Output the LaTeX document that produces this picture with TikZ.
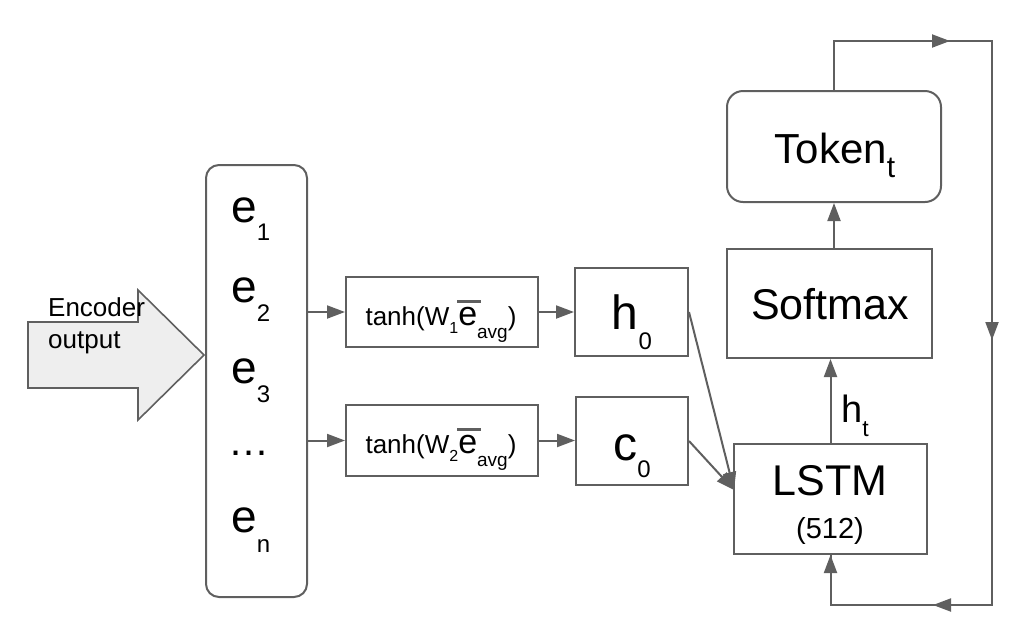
\documentclass[tikz,border=0pt]{standalone}
\usepackage{fontspec}
\setmainfont{Liberation Sans}
\usetikzlibrary{arrows.meta}
\definecolor{lg}{HTML}{5F5F5F}
\definecolor{encfill}{HTML}{EEEEEE}
\newcommand\fs[1]{\fontsize{#1}{#1}\selectfont}
\newcommand\subtxt[3]{\raisebox{-#1pt}{\fs{#2}#3}}
\newcommand\ebar{\makebox[0pt][l]{\hspace{-1pt}\textcolor{lg}{\rule[22pt]{24pt}{3.5pt}}}\fs{34}e}
\newcommand\tanhlabel[1]{{\fs{26}tanh(W}\subtxt{8}{16}{#1}{\ebar}\subtxt{13}{19}{avg}{\fs{26})}}
\begin{document}
\begin{tikzpicture}[x=1pt,y=-1pt,
  box/.style={draw=lg,line width=2pt,inner sep=0pt},
  conn/.style={draw=lg,line width=2pt},
  arr/.style={conn,-{Triangle[length=18pt,width=13pt]}},
  lbl/.style={inner sep=0pt,text=black}]
\useasboundingbox (0,0) rectangle (1024,638);

% encoder block arrow
\draw[draw=lg,line width=1.6pt,fill=encfill,line join=miter]
  (28,322) -- (138,322) -- (138,290) -- (204,355) -- (138,420) -- (138,388) -- (28,388) -- cycle;
\node[lbl,anchor=base west,align=left,font=\fontsize{26}{32}\selectfont] (enc) at (48,348) {Encoder\\output};

% boxes
\node[box,rounded corners=13pt,minimum width=101pt,minimum height=432pt] (ebox) at (256.5,381) {};
\node[box,minimum width=192pt,minimum height=70pt] (tanh1) at (442,312) {};
\node[box,minimum width=192pt,minimum height=71pt] (tanh2) at (442,440.5) {};
\node[box,minimum width=113pt,minimum height=88pt] (h0) at (631.5,312) {};
\node[box,minimum width=112pt,minimum height=88pt] (c0) at (632,441) {};
\node[box,rounded corners=16pt,minimum width=214pt,minimum height=111pt] (token) at (834,146.5) {};
\node[box,minimum width=205pt,minimum height=109pt] (softmax) at (829.5,303.5) {};
\node[box,minimum width=193pt,minimum height=110pt] (lstm) at (830.5,499) {};

% texts
\node[lbl,anchor=base west] (e1) at (231,222) {\fs{46}e\subtxt{18}{24}{1}};
\node[lbl,anchor=base west] (e2) at (231,302) {\fs{46}e\subtxt{19}{24}{2}};
\node[lbl,anchor=base west] (e3) at (231,383) {\fs{46}e\subtxt{19}{24}{3}};
\node[lbl,anchor=base west] (edots) at (228,455) {\fs{41}…};
\node[lbl,anchor=base west] (en) at (231,532) {\fs{46}e\subtxt{20}{24}{n}};
\node[lbl,anchor=base] (t1txt) at (441,325) {\tanhlabel{1}};
\node[lbl,anchor=base] (t2txt) at (441,453) {\tanhlabel{2}};
\node[lbl,anchor=base] (h0txt) at (632,329) {\fs{48}h\subtxt{20}{24}{0}};
\node[lbl,anchor=base] (c0txt) at (632,460) {\fs{48}c\subtxt{17}{24}{0}};
\node[lbl,anchor=base] (toktxt) at (835,163) {\fs{42}Token\subtxt{14}{30}{t}};
\node[lbl,anchor=base] (smtxt) at (830,319) {\fs{43}Softmax};
\node[lbl,anchor=base] (lstmtxt) at (830,495) {\fs{43}LSTM};
\node[lbl,anchor=base] (lstmsz) at (830,538) {\fs{29}(512)};
\node[lbl,anchor=base west] (httxt) at (841,422) {\fs{38}h\subtxt{14}{23}{t}};

% connectors
\draw[arr] (ebox.east |- tanh1.west) -- (tanh1.west);
\draw[arr] (ebox.east |- tanh2.west) -- (tanh2.west);
\draw[arr] (tanh1.east) -- (tanh1.east -| h0.west);
\draw[arr] (tanh2.east) -- (tanh2.east -| c0.west);
\coordinate (lin) at (734,490);
\draw[arr] (h0.east) -- (lin);
\draw[arr] (c0.east) -- (lin);
\draw[arr] (lstm.north) -- (lstm.north |- softmax.south);
\draw[arr] (token.south |- softmax.north) -- (token.south);

% feedback loop
\coordinate (tr) at (992,41);
\coordinate (br) at (992,605);
\coordinate (atop) at (950,41);
\coordinate (aright) at (992,340);
\coordinate (abot) at (933,605);
\draw[conn] (token.north) |- (tr) -- (br) -| (lstm.south);
\draw[arr] (token.north |- tr) -- (atop);
\draw[arr] (tr) -- (aright);
\draw[arr] (br) -- (abot);
\draw[arr] (lstm.south |- br) -- (lstm.south);
\end{tikzpicture}
\end{document}
